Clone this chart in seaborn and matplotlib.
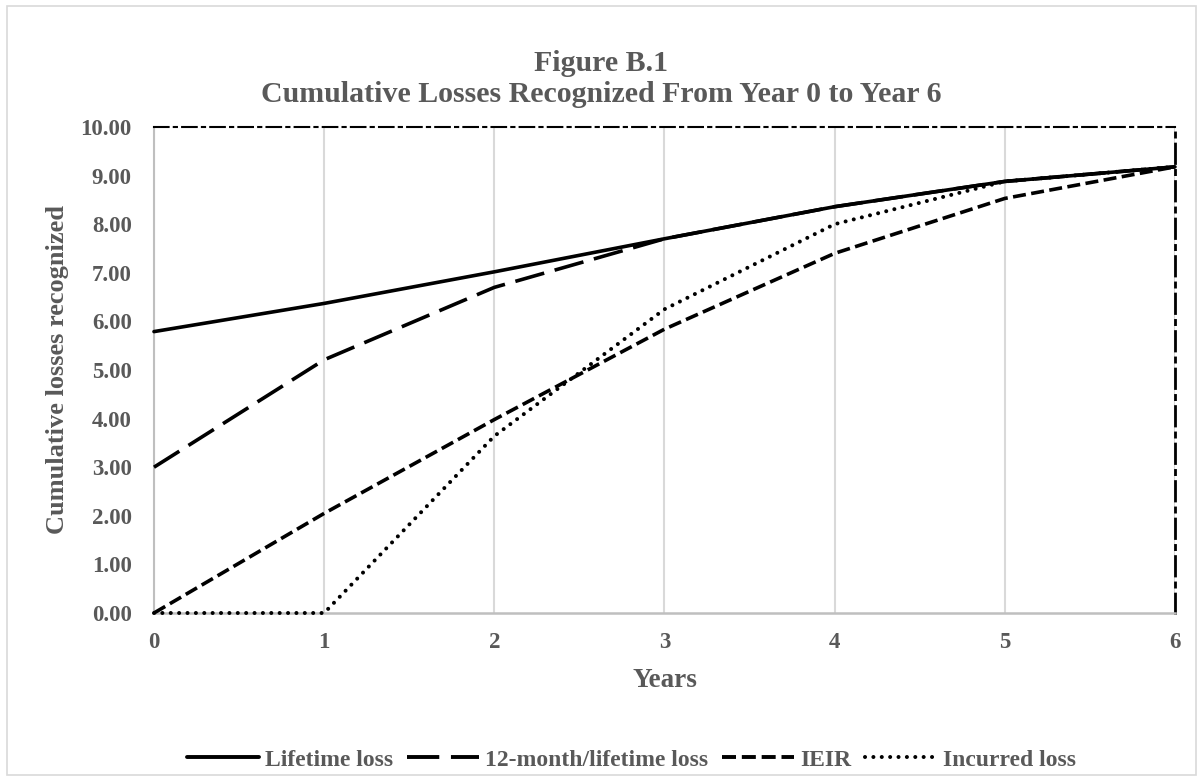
import matplotlib
matplotlib.use("Agg")
import matplotlib.pyplot as plt
import matplotlib.patches as mpatches
from matplotlib.lines import Line2D
import seaborn as sns
import pandas as pd

years = [0, 1, 2, 3, 4, 5, 6]
lifetime_loss = [5.79, 6.37, 7.02, 7.70, 8.36, 8.88, 9.18]
twelve_month_loss = [3.00, 5.21, 6.70, 7.70, 8.36, 8.88, 9.18]
ieir_loss = [0.00, 2.05, 3.98, 5.84, 7.40, 8.53, 9.18]
incurred_loss = [0.00, 0.00, 3.64, 6.25, 8.00, 8.88, 9.18]
series_names = ["Lifetime loss", "12-month/lifetime loss", "IEIR", "Incurred loss"]
y_ticks = [0, 1, 2, 3, 4, 5, 6, 7, 8, 9, 10]

sns.set_theme(style="white")
plt.rcParams["font.family"] = ["Liberation Serif", "DejaVu Serif"]
plt.rcParams["font.weight"] = "bold"

grey = "#595959"

df = pd.DataFrame({
    "Years": years * 4,
    "value": lifetime_loss + twelve_month_loss + ieir_loss + incurred_loss,
    "series": sum([[n] * len(years) for n in series_names], []),
})

fig = plt.figure(figsize=(12.03, 7.81), dpi=100)
ax = fig.add_axes([0.128, 0.2151, 0.8487, 0.6223])

dash_map = {
    "Lifetime loss": "",
    "12-month/lifetime loss": (8.3, 3.0),
    "IEIR": (3.6, 1.5),
    "Incurred loss": (0.01, 2.07),
}
sns.lineplot(data=df, x="Years", y="value", style="series", style_order=series_names,
             dashes=dash_map, color="black", linewidth=2.6, ax=ax, legend=False)
lines = ax.get_lines()
for line in lines:
    line.set_dash_capstyle("butt")
    line.set_clip_on(False)
    line.set_zorder(3)
lines[3].set_dash_capstyle("round")
lines[3].set_linewidth(2.9)

ax.set_xlim(0, 6)
ax.set_ylim(0, 10)
ax.set_xticks(years)
ax.set_yticks(y_ticks)
ax.set_yticklabels([f"{v:.2f}" for v in y_ticks])
ax.tick_params(axis="y", length=0, labelsize=16.5, labelcolor=grey, pad=16)
ax.tick_params(axis="x", length=0, labelsize=16.5, labelcolor=grey, pad=14)
for lab in ax.get_xticklabels() + ax.get_yticklabels():
    lab.set_fontweight("bold")

ax.grid(axis="x", color="#d9d9d9", linewidth=1.5)
ax.grid(axis="y", visible=False)

dashdot = (0, (7, 2.5, 1.5, 2.5))
ax.spines["top"].set_linestyle(dashdot)
ax.spines["top"].set_color("black")
ax.spines["top"].set_linewidth(1.5)
ax.spines["right"].set_linestyle(dashdot)
ax.spines["right"].set_color("black")
ax.spines["right"].set_linewidth(2.0)
ax.spines["left"].set_color("#bfbfbf")
ax.spines["left"].set_linewidth(1.5)
ax.spines["bottom"].set_color("#bfbfbf")
ax.spines["bottom"].set_linewidth(1.8)

ax.set_xlabel("Years", fontsize=19.5, color=grey, fontweight="bold")
ax.set_ylabel("Cumulative losses recognized", fontsize=19, color=grey, fontweight="bold")
ax.xaxis.set_label_coords(0.5, -0.113)
ax.yaxis.set_label_coords(-0.083, 0.5)

fig.text(0.5, 0.919, "Figure B.1", ha="center", va="center", fontsize=21.5, color=grey, fontweight="bold")
fig.text(0.5, 0.879, "Cumulative Losses Recognized From Year 0 to Year 6", ha="center", va="center",
         fontsize=21.5, color=grey, fontweight="bold")

handles = []
for n in series_names:
    if n == "Incurred loss":
        handles.append(Line2D([], [], color="black", linewidth=2.9,
                              linestyle=(0, dash_map[n]), dash_capstyle="round"))
    else:
        handles.append(Line2D([], [], color="black", linewidth=2.8,
                              linestyle=(0, dash_map[n]) if dash_map[n] else "-",
                              dash_capstyle="butt"))
leg = fig.legend(handles, series_names, loc="center", bbox_to_anchor=(0.525, 0.027), ncol=4,
                 frameon=False, fontsize=17, handlelength=3.05, handletextpad=0.25, columnspacing=0.6)
for t in leg.get_texts():
    t.set_color(grey)
    t.set_fontweight("bold")

fig.patches.append(mpatches.Rectangle((0.006, 0.008), 0.988, 0.984, transform=fig.transFigure,
                                      fill=False, edgecolor="#d9d9d9", linewidth=1.2))

fig.savefig("out.png", dpi=100)
